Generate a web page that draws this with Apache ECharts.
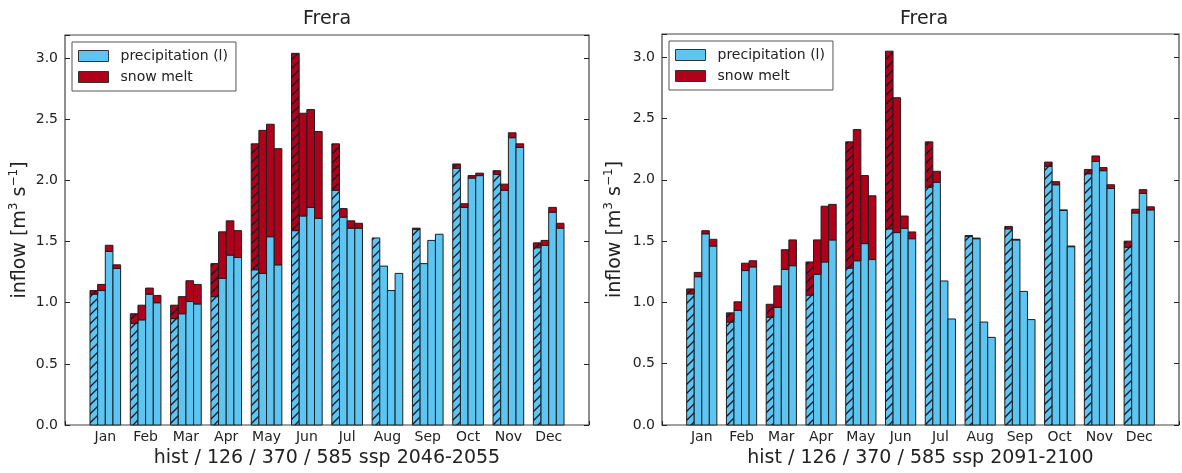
<!DOCTYPE html>
<html>
<head>
<meta charset="utf-8">
<script src="https://cdn.jsdelivr.net/npm/echarts@6/dist/echarts.min.js"></script>
<style>
html,body{margin:0;padding:0;background:#fff}
#chart{width:1182px;height:473px}
</style>
</head>
<body>
<div id="chart"></div>
<script>
// months / scenarios
var months = ['Jan','Feb','Mar','Apr','May','Jun','Jul','Aug','Sep','Oct','Nov','Dec'];
var scenarios = ['hist','126','370','585'];
var yTicks = [0, 0.5, 1.0, 1.5, 2.0, 2.5, 3.0];

// panel 1 : ssp 2046-2055  (precipitation part / snow melt part)
var midPrecipHist = [1.07,0.83,0.87,1.05,1.27,1.59,1.92,1.53,1.60,2.10,2.05,1.45];
var midPrecip126  = [1.10,0.86,0.91,1.20,1.24,1.71,1.70,1.30,1.32,1.78,1.92,1.47];
var midPrecip370  = [1.42,1.07,1.01,1.39,1.54,1.78,1.61,1.10,1.51,2.02,2.35,1.74];
var midPrecip585  = [1.28,1.00,0.99,1.37,1.31,1.69,1.61,1.24,1.56,2.04,2.27,1.61];
var midSnowHist   = [0.03,0.08,0.11,0.27,1.03,1.45,0.38,0.00,0.01,0.035,0.03,0.04];
var midSnow126    = [0.05,0.12,0.14,0.38,1.17,0.84,0.07,0.00,0.00,0.03,0.05,0.04];
var midSnow370    = [0.05,0.05,0.17,0.28,0.92,0.80,0.06,0.00,0.00,0.02,0.04,0.04];
var midSnow585    = [0.03,0.06,0.16,0.22,0.95,0.71,0.04,0.00,0.00,0.02,0.03,0.04];

// panel 2 : ssp 2091-2100
var endPrecipHist = [1.07,0.84,0.88,1.06,1.28,1.60,1.94,1.54,1.60,2.11,2.05,1.45];
var endPrecip126  = [1.21,0.935,0.96,1.23,1.34,1.57,1.98,1.52,1.51,1.96,2.15,1.73];
var endPrecip370  = [1.56,1.26,1.27,1.33,1.48,1.605,1.175,0.84,1.09,1.75,2.075,1.89];
var endPrecip585  = [1.46,1.29,1.30,1.51,1.35,1.52,0.865,0.715,0.86,1.455,1.93,1.755];
var endSnowHist   = [0.04,0.075,0.105,0.27,1.03,1.45,0.37,0.005,0.02,0.035,0.035,0.05];
var endSnow126    = [0.035,0.07,0.175,0.28,1.07,1.10,0.09,0.005,0.005,0.025,0.045,0.03];
var endSnow370    = [0.025,0.06,0.16,0.455,0.555,0.10,0,0,0,0.005,0.025,0.03];
var endSnow585    = [0.055,0.05,0.21,0.29,0.52,0.055,0,0,0,0.005,0.03,0.025];

var BLUE = '#5cc5f2', RED = '#b0001a', EDGE = '#1e1e1e';
var FONT = 'DejaVu Sans';
var barW = 0.19;
var barOff = [-0.285, -0.095, 0.095, 0.285];

function hatch(bg){
  var c = document.createElement('canvas');
  c.width = 9; c.height = 9;
  var g = c.getContext('2d');
  g.fillStyle = bg; g.fillRect(0,0,9,9);
  g.strokeStyle = '#101828'; g.lineWidth = 1.3;
  for (var s = -9; s <= 9; s += 9){
    g.beginPath(); g.moveTo(-1+s,10); g.lineTo(10+s,-1); g.stroke();
  }
  return {image:c, repeat:'repeat'};
}
var blueHatch = hatch(BLUE), redHatch = hatch(RED);

function items(pre, snow, stacked){
  var out = [];
  for (var k = 0; k < 4; k++){
    for (var m = 0; m < 12; m++){
      if (stacked) out.push([m, k, pre[k][m], pre[k][m] + snow[k][m]]);
      else out.push([m, k, 0, pre[k][m]]);
    }
  }
  return out;
}

function render(color, hatched){
  return function(params, api){
    var m = api.value(0), k = api.value(1), lo = api.value(2), hi = api.value(3);
    if (hi - lo <= 0) return;
    var x0 = m + barOff[k] - barW/2;
    var a = api.coord([x0, hi]), b = api.coord([x0 + barW, lo]);
    return {
      type:'rect',
      shape:{x:a[0], y:a[1], width:b[0]-a[0], height:b[1]-a[1]},
      style:{fill: k === 0 ? hatched : color, stroke:EDGE, lineWidth:1}
    };
  };
}

function barSeries(name, gi, data, color, hatched){
  return {
    name:name, type:'custom', xAxisIndex:gi, yAxisIndex:gi*2,
    itemStyle:{color:color},
    renderItem:render(color, hatched),
    dimensions:['m','k','lo','hi'],
    encode:{x:0, y:[2,3]},
    data:data
  };
}

var midP = [midPrecipHist, midPrecip126, midPrecip370, midPrecip585];
var midS = [midSnowHist, midSnow126, midSnow370, midSnow585];
var endP = [endPrecipHist, endPrecip126, endPrecip370, endPrecip585];
var endS = [endSnowHist, endSnow126, endSnow370, endSnow585];

var grids = [
  {left:65, top:35, width:524, height:391},
  {left:662, top:34, width:524, height:391}
];
var xnames = ['hist / 126 / 370 / 585 ssp 2046-2055', 'hist / 126 / 370 / 585 ssp 2091-2100'];
var ynameGap = [30, 35];

var xAxes = [], yAxes = [];
grids.forEach(function(g, i){
  g.show = true; g.borderColor = '#444'; g.borderWidth = 1.2; g.backgroundColor = '#fff';
  xAxes.push({
    type:'value', gridIndex:i, min:-1, max:12, interval:1,
    axisLine:{show:false, onZero:false}, splitLine:{show:false},
    axisTick:{inside:true, length:4, lineStyle:{color:'#222'}},
    axisLabel:{margin:5, fontSize:14, fontFamily:FONT, color:'#222',
      formatter:function(v){ return months[v] || ''; }},
    name:xnames[i], nameLocation:'middle', nameGap:24,
    nameTextStyle:{fontSize:19, fontFamily:FONT, color:'#222'}
  });
  yAxes.push({
    type:'value', gridIndex:i, min:0, max:3.19, interval:0.5,
    axisLine:{show:false, onZero:false}, splitLine:{show:false},
    axisTick:{inside:true, length:5, lineStyle:{color:'#222'}},
    axisLabel:{margin:7, fontSize:14, fontFamily:FONT, color:'#222',
      formatter:function(v){ return yTicks.indexOf(v) >= 0 ? v.toFixed(1) : ''; }},
    name:'inflow [m{sup|3} s{sup|\u22121}]', nameLocation:'middle', nameGap:ynameGap[i],
    nameTextStyle:{fontSize:19, fontFamily:FONT, color:'#222', lineHeight:24,
      rich:{sup:{fontSize:12, fontFamily:FONT, color:'#222', verticalAlign:'top', lineHeight:24, padding:[0,0,10,0]}}}
  });
  yAxes.push({
    type:'value', gridIndex:i, min:0, max:3.19, interval:0.5, position:'right',
    axisLine:{show:false, onZero:false}, splitLine:{show:false}, axisLabel:{show:false},
    axisTick:{inside:true, length:5, lineStyle:{color:'#222'}}
  });
});

var legendBase = {
  orient:'vertical', itemWidth:30, itemHeight:11, itemGap:7,
  padding:[7,8,7,6], borderColor:'#555', borderWidth:1, backgroundColor:'#fff',
  icon:'rect', itemStyle:{borderColor:'#333', borderWidth:1},
  textStyle:{fontSize:14, fontFamily:FONT, color:'#222', padding:[0,0,0,7]},
  data:['precipitation (l)','snow melt']
};
var legends = [
  Object.assign({left:72, top:42}, legendBase),
  Object.assign({left:669, top:41}, legendBase)
];

var chart = echarts.init(document.getElementById('chart'));
chart.setOption({
  animation:false,
  graphic:[
    {type:'text', x:327, y:19, style:{text:'Frera', fontSize:19, fontFamily:FONT, fill:'#222', align:'center', verticalAlign:'middle'}},
    {type:'text', x:924, y:19, style:{text:'Frera', fontSize:19, fontFamily:FONT, fill:'#222', align:'center', verticalAlign:'middle'}}
  ],
  legend:legends,
  grid:grids,
  xAxis:xAxes,
  yAxis:yAxes,
  series:[
    barSeries('precipitation (l)', 0, items(midP, midS, false), BLUE, blueHatch),
    barSeries('snow melt', 0, items(midP, midS, true), RED, redHatch),
    barSeries('precipitation (l)', 1, items(endP, endS, false), BLUE, blueHatch),
    barSeries('snow melt', 1, items(endP, endS, true), RED, redHatch)
  ]
});
</script>
</body>
</html>
